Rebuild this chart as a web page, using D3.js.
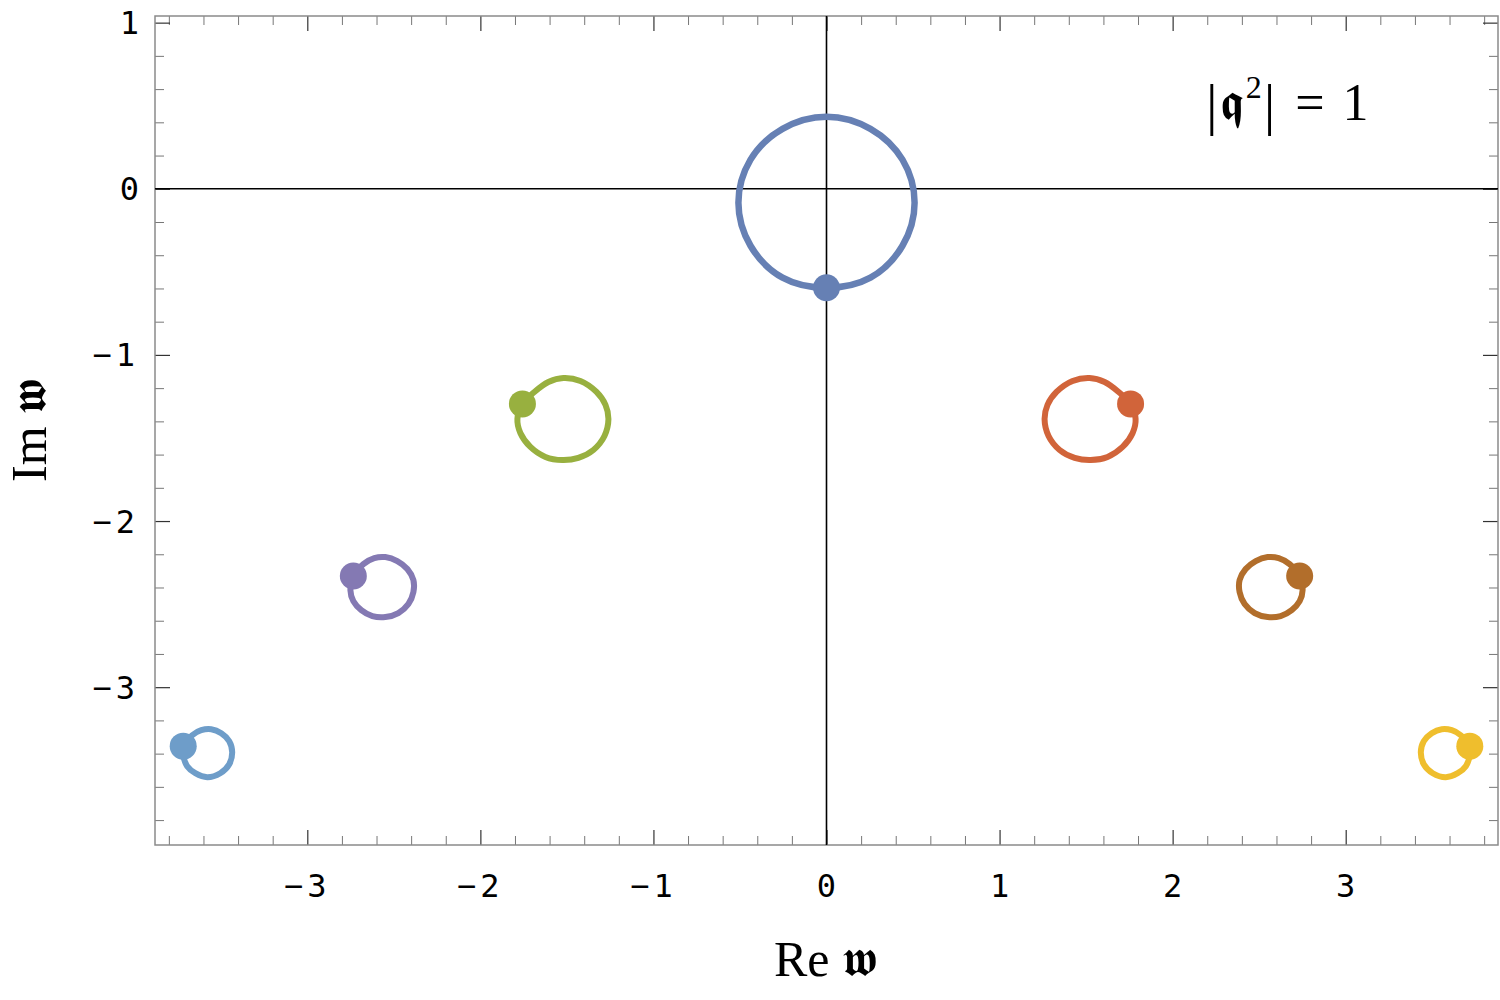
<!DOCTYPE html>
<html>
<head>
<meta charset="utf-8">
<script src="https://cdn.jsdelivr.net/npm/d3@7"></script>
<style>
  html, body { margin: 0; padding: 0; background: #fff; }
  svg { display: block; }
</style>
</head>
<body>
<svg id="chart" width="1500" height="1000"></svg>
<script>
// ---- data ----
const xMajorTicks = [-3, -2, -1, 0, 1, 2, 3];
const yMajorTicks = [1, 0, -1, -2, -3];
const xTickLabels = ["−3", "−2", "−1", "0", "1", "2", "3"];
const yTickLabels = ["1", "0", "−1", "−2", "−3"];

const seriesNames = ["n0", "left1", "right1", "left2", "right2", "left3", "right3"];
const seriesColors = ["#6680b4", "#98b03f", "#d1643a", "#8479b3", "#b26e2b", "#6e9dc9", "#efbe2d"];
const strokeWidths = [6.5, 6, 6, 6, 6, 6, 6];

const loopN0 = [[0, -0.596], [0.254, -0.535], [0.439, -0.343], [0.509, -0.084], [0.439, 0.175], [0.254, 0.361],
  [0, 0.434], [-0.254, 0.361], [-0.439, 0.175], [-0.509, -0.084], [-0.439, -0.343], [-0.254, -0.535]];
const loopL1 = [[-1.757, -1.295], [-1.688, -1.223], [-1.607, -1.163], [-1.520, -1.139], [-1.422, -1.157],
  [-1.329, -1.223], [-1.277, -1.301], [-1.260, -1.386], [-1.283, -1.488], [-1.347, -1.572], [-1.434, -1.620],
  [-1.526, -1.633], [-1.624, -1.614], [-1.711, -1.554], [-1.769, -1.470], [-1.786, -1.386]];
const loopR1 = [[1.757, -1.295], [1.688, -1.223], [1.607, -1.163], [1.520, -1.139], [1.422, -1.157],
  [1.329, -1.223], [1.277, -1.301], [1.260, -1.386], [1.283, -1.488], [1.347, -1.572], [1.434, -1.620],
  [1.526, -1.633], [1.624, -1.614], [1.711, -1.554], [1.769, -1.470], [1.786, -1.386]];
const loopL2 = [[-2.734, -2.331], [-2.676, -2.259], [-2.613, -2.223], [-2.549, -2.217], [-2.480, -2.241],
  [-2.422, -2.289], [-2.387, -2.355], [-2.387, -2.428], [-2.416, -2.500], [-2.474, -2.554], [-2.549, -2.578],
  [-2.624, -2.572], [-2.688, -2.536], [-2.734, -2.482], [-2.751, -2.416]];
const loopR2 = [[2.734, -2.331], [2.676, -2.259], [2.613, -2.223], [2.549, -2.217], [2.480, -2.241],
  [2.422, -2.289], [2.387, -2.355], [2.387, -2.428], [2.416, -2.500], [2.474, -2.554], [2.549, -2.578],
  [2.624, -2.572], [2.688, -2.536], [2.734, -2.482], [2.751, -2.416]];
const loopL3 = [[-3.717, -3.355], [-3.665, -3.289], [-3.613, -3.259], [-3.555, -3.253], [-3.497, -3.277],
  [-3.451, -3.325], [-3.434, -3.392], [-3.451, -3.464], [-3.503, -3.518], [-3.578, -3.542], [-3.647, -3.518],
  [-3.694, -3.476], [-3.717, -3.410]];
const loopR3 = [[3.717, -3.355], [3.665, -3.289], [3.613, -3.259], [3.555, -3.253], [3.497, -3.277],
  [3.451, -3.325], [3.434, -3.392], [3.451, -3.464], [3.503, -3.518], [3.578, -3.542], [3.647, -3.518],
  [3.694, -3.476], [3.717, -3.410]];
const loops = [loopN0, loopL1, loopR1, loopL2, loopR2, loopL3, loopR3];

// start points (dots)
const dotX = [0, -1.757, 1.757, -2.734, 2.734, -3.717, 3.717];
const dotY = [-0.596, -1.295, -1.295, -2.331, -2.331, -3.355, -3.355];

// ---- layout ----
const svg = d3.select("#chart");
const L = 155, R = 1498, T = 16, B = 845;
const x = d3.scaleLinear().domain([-3.88, 3.88]).range([L, R]);
const y = d3.scaleLinear().domain([-3.95, 1.04]).range([B, T]);

const xMinor = d3.range(-38, 39, 2).map(v => v / 10).filter(v => !xMajorTicks.some(m => Math.abs(m - v) < 1e-9));
const yMinor = d3.range(-38, 11, 2).map(v => v / 10).filter(v => !yMajorTicks.some(m => Math.abs(m - v) < 1e-9));

const majLen = 15, minLen = 9;
const frame = svg.append("g");

function tickGroup(axisFn, scale, vals, len, transform, color, width) {
  const g = frame.append("g").attr("transform", transform)
    .call(axisFn(scale).tickValues(vals).tickSize(-len).tickFormat(""));
  g.select(".domain").remove();
  g.selectAll(".tick line").attr("stroke", color).attr("stroke-width", width);
  g.selectAll(".tick text").remove();
  return g;
}
tickGroup(d3.axisBottom, x, xMinor, minLen, `translate(0,${B})`, "#777", 1);
tickGroup(d3.axisBottom, x, xMajorTicks, majLen, `translate(0,${B})`, "#333", 1.2);
tickGroup(d3.axisTop, x, xMinor, minLen, `translate(0,${T})`, "#777", 1);
tickGroup(d3.axisTop, x, xMajorTicks, majLen, `translate(0,${T})`, "#333", 1.2);
tickGroup(d3.axisLeft, y, yMinor, minLen, `translate(${L},0)`, "#777", 1);
tickGroup(d3.axisLeft, y, yMajorTicks, majLen, `translate(${L},0)`, "#333", 1.2);
tickGroup(d3.axisRight, y, yMinor, minLen, `translate(${R},0)`, "#777", 1);
tickGroup(d3.axisRight, y, yMajorTicks, majLen, `translate(${R},0)`, "#333", 1.2);

frame.append("rect").attr("x", L).attr("y", T).attr("width", R - L).attr("height", B - T)
  .attr("fill", "none").attr("stroke", "#8a8a8a").attr("stroke-width", 1.5);

// zero axes
svg.append("line").attr("x1", x(0)).attr("x2", x(0)).attr("y1", T).attr("y2", B)
  .attr("stroke", "#000").attr("stroke-width", 1.6);
svg.append("line").attr("x1", L).attr("x2", R).attr("y1", y(0)).attr("y2", y(0))
  .attr("stroke", "#000").attr("stroke-width", 1.6);

// tick labels
const lblFont = "'DejaVu Sans Mono', monospace";
svg.append("g").selectAll("text").data(xMajorTicks).join("text")
  .attr("x", d => x(d)).attr("y", 885).attr("dy", "0.36em")
  .attr("text-anchor", "middle").attr("font-family", lblFont).attr("font-size", 32)
  .attr("letter-spacing", (d, i) => xTickLabels[i].length > 1 ? 4 : 0)
  .text((d, i) => xTickLabels[i]);
svg.append("g").selectAll("text").data(yMajorTicks).join("text")
  .attr("x", 139).attr("y", d => y(d)).attr("dy", "0.36em")
  .attr("text-anchor", "end").attr("font-family", lblFont).attr("font-size", 32)
  .attr("letter-spacing", (d, i) => yTickLabels[i].length > 1 ? 4 : 0)
  .text((d, i) => yTickLabels[i]);

// loops
const line = d3.line().x(d => x(d[0])).y(d => y(d[1])).curve(d3.curveCatmullRomClosed.alpha(0.5));
const gLoops = svg.append("g");
loops.forEach((pts, i) => {
  gLoops.append("path").attr("d", line(pts)).attr("fill", "none")
    .attr("stroke", seriesColors[i]).attr("stroke-width", strokeWidths[i])
    .attr("data-series", seriesNames[i]);
});
gLoops.selectAll("circle").data(dotX).join("circle")
  .attr("cx", d => x(d)).attr("cy", (d, i) => y(dotY[i])).attr("r", 13.5)
  .attr("fill", (d, i) => seriesColors[i]);

// axis titles
const serif = "'Liberation Serif', 'DejaVu Serif', serif";
svg.append("text").attr("x", 826).attr("y", 976).attr("text-anchor", "middle")
  .attr("font-family", serif).attr("font-size", 50).text("Re 𝖜");
svg.append("text").attr("transform", "translate(46,430) rotate(-90)").attr("text-anchor", "middle")
  .attr("font-family", serif).attr("font-size", 50).text("Im 𝖜");

// annotation |q^2| = 1
const ann = svg.append("text").attr("x", 1206).attr("y", 120).attr("font-family", serif).attr("font-size", 52);
ann.append("tspan").attr("font-size", 58).attr("dy", 4).text("|");
ann.append("tspan").attr("dy", -4).attr("dx", 2).text("𝖖");
ann.append("tspan").attr("font-size", 32).attr("dy", -22).attr("dx", 2).text("2");
ann.append("tspan").attr("font-size", 58).attr("dy", 26).attr("dx", 2).text("|");
ann.append("tspan").attr("dy", -4).attr("dx", 20).text("=");
ann.append("tspan").attr("dx", 18).text("1");
</script>
</body>
</html>
